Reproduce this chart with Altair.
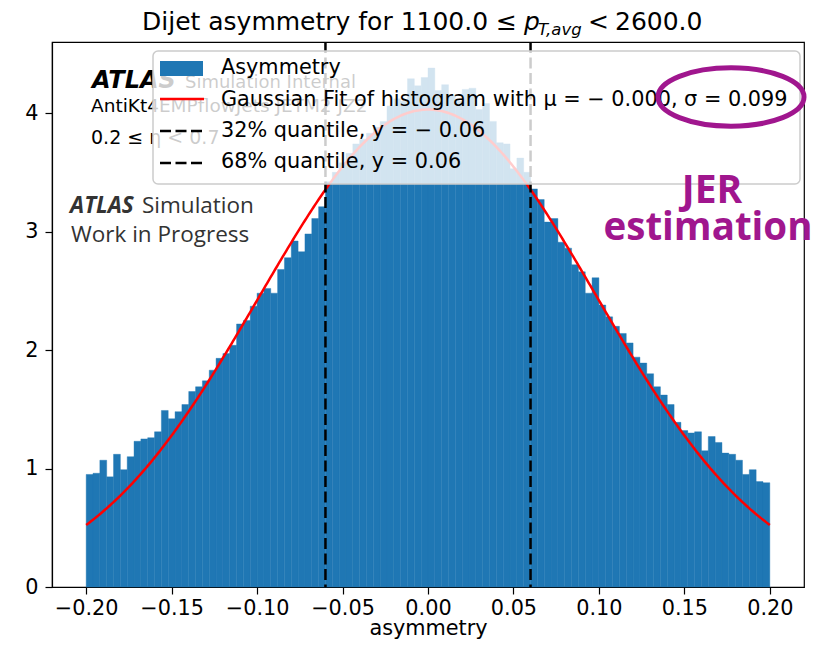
import altair as alt
import numpy as np
import pandas as pd

# ---------------- data ----------------
bin_range = [-0.2, 0.2]
heights = [0.95, 0.96, 1.07, 0.93, 1.12, 0.99, 1.10, 1.23, 1.25, 1.26,
           1.31, 1.49, 1.42, 1.48, 1.54, 1.65, 1.69, 1.74, 1.83, 1.93,
           1.97, 2.04, 2.22, 2.25, 2.37, 2.48, 2.52, 2.48, 2.68, 2.78,
           2.92, 2.83, 2.98, 3.11, 3.21, 3.42, 3.50, 3.58, 3.66, 3.74,
           3.78, 3.83, 3.88, 3.93, 4.06, 4.12, 4.10, 4.29, 4.23, 4.30,
           4.38, 4.19, 4.24, 4.15, 4.10, 4.20, 4.21, 4.03, 4.08, 3.93,
           3.75, 3.74, 3.53, 3.62, 3.50, 3.36, 3.27, 3.08, 3.11, 2.91,
           2.86, 2.72, 2.66, 2.48, 2.61, 2.38, 2.28, 2.20, 2.14, 2.06,
           1.94, 1.89, 1.80, 1.69, 1.62, 1.54, 1.39, 1.32, 1.30, 1.31,
           1.15, 1.27, 1.22, 1.13, 1.12, 1.07, 0.95, 0.99, 0.89, 0.88]
quantiles = [-0.06, 0.06]
fit_mu = 0.0
fit_sigma = 0.099
fit_amp = 4.03

x_ticks = [-0.2, -0.15, -0.1, -0.05, 0.0, 0.05, 0.1, 0.15, 0.2]
y_ticks = [0, 1, 2, 3, 4]

title_parts = ["Dijet asymmetry for 1100.0 ≤", "p", "T,avg", "<", "2600.0"]
legend_labels = ["Asymmetry",
                 "Gaussian Fit of histogram with μ = − 0.000, σ = 0.099",
                 "32% quantile, y = − 0.06",
                 "68% quantile, y = 0.06"]
atlas_lines = ["ATLAS", "Simulation Internal", "AntiKt4EMPflowJets JETM2 JZ2", "0.2 ≤ η < 0.7"]
overlay_lines = ["ATLAS", "Simulation", "Work in Progress"]
jer_lines = ["JER", "estimation"]

# ---------------- tables ----------------
edges = np.linspace(bin_range[0], bin_range[1], len(heights) + 1)
hist = pd.DataFrame({"x0": edges[:-1], "x1": edges[1:], "h": heights})
qdf = pd.DataFrame({"q": quantiles})

BLUE = "#1f77b4"
PURPLE = "#a0168e"

xscale = alt.Scale(domain=[-0.22, 0.22], nice=False, zero=False)
yscale = alt.Scale(domain=[0, 4.6], nice=False, zero=False)
xaxis = alt.Axis(values=x_ticks, format=".2f",
                 labelExpr="replace(datum.label, '-', '−')",
                 labelFlush=False, labelPadding=4, titlePadding=1)
yaxis = alt.Axis(values=y_ticks, format="d", labelPadding=7)


def X(field):
    return alt.X(field, type="quantitative", scale=xscale, axis=xaxis, title="asymmetry")


def Y(field):
    return alt.Y(field, type="quantitative", scale=yscale, axis=yaxis, title=None)


bars = alt.Chart(hist).mark_rect(color=BLUE, stroke=BLUE, strokeWidth=0.4).encode(
    x=X("x0"), x2="x1", y=Y("h"), y2=alt.datum(0)
)

fit = alt.Chart(alt.sequence(0, 401, 1, as_="i")).transform_calculate(
    x=f"{bin_range[0]} + datum.i * {(bin_range[1] - bin_range[0]) / 400}",
    y=f"{fit_amp} * exp(-pow(datum.x - {fit_mu}, 2) / (2 * pow({fit_sigma}, 2)))",
).mark_line(color="red", strokeWidth=2.5).encode(x=X("x"), y=Y("y"))

qlines = alt.Chart(qdf).mark_rule(color="black", strokeWidth=2.5, strokeDash=[11, 4.5]).encode(
    x=X("q")
)

one = pd.DataFrame({"a": [0]})


def label(text, x, y, size, font="DejaVu Sans", color="black", weight="normal",
          style="normal", align="left", baseline="alphabetic"):
    return alt.Chart(pd.DataFrame({"t": [text]})).mark_text(
        font=font, fontSize=size, color=color, fontWeight=weight, fontStyle=style,
        align=align, baseline=baseline
    ).encode(x=alt.value(x), y=alt.value(y), text="t:N")


# matplotlib ATLAS label (under legend)
mpl_text = [
    label(atlas_lines[0], 40, 46, 24, weight="bold", style="italic"),
    label(atlas_lines[1], 133, 46, 18),
    label(atlas_lines[2], 39, 70, 18.5),
    label(atlas_lines[3], 39, 102, 19),
]

legend_box = alt.Chart(one).mark_rect(
    fill="white", fillOpacity=0.8, stroke="#cccccc", strokeWidth=1.5, cornerRadius=5
).encode(x=alt.value(101), x2=alt.value(748), y=alt.value(9), y2=alt.value(142))

swatch = alt.Chart(one).mark_rect(color=BLUE).encode(
    x=alt.value(108), x2=alt.value(151), y=alt.value(19), y2=alt.value(34))
leg_red = alt.Chart(one).mark_rule(color="red", strokeWidth=2.5).encode(
    x=alt.value(108), x2=alt.value(152), y=alt.value(57))
leg_d1 = alt.Chart(one).mark_rule(color="black", strokeWidth=2.5, strokeDash=[11, 4.5]).encode(
    x=alt.value(108), x2=alt.value(152), y=alt.value(89))
leg_d2 = alt.Chart(one).mark_rule(color="black", strokeWidth=2.5, strokeDash=[11, 4.5]).encode(
    x=alt.value(108), x2=alt.value(152), y=alt.value(121))
leg_text = [label(t, 169, yy, 20.8, baseline="middle")
            for t, yy in zip(legend_labels, [26, 58, 89, 120])]

overlay = [
    label(overlay_lines[0], 18, 171, 22.5, font="Open Sans", color="#333333", weight="bold", style="italic"),
    label(overlay_lines[1], 90, 171, 22.5, font="Open Sans", color="#333333"),
    label(overlay_lines[2], 19, 200, 22.5, font="Open Sans", color="#333333"),
    label(jer_lines[0], 660, 161, 39, font="Open Sans", color=PURPLE, weight="bold", align="center"),
    label(jer_lines[1], 656, 198, 38.5, font="Open Sans", color=PURPLE, weight="bold", align="center"),
]

ellipse = alt.Chart(one).mark_point(
    shape="M -1 0 A 1 0.4 0 1 0 1 0 A 1 0.4 0 1 0 -1 0 Z",
    size=146 * 146, filled=False, stroke=PURPLE, strokeWidth=5, opacity=1
).encode(x=alt.value(679), y=alt.value(55))

title = [
    label(title_parts[0], 465, -12, 25, align="right"),
    label(title_parts[1], 472, -12, 25, style="italic"),
    label(title_parts[2], 486, -7, 16.5, style="italic"),
    label(title_parts[3], 536, -12, 25),
    label(title_parts[4], 563, -12, 25),
]

chart = alt.layer(
    bars, fit, qlines, *mpl_text, legend_box, swatch, leg_red, leg_d1, leg_d2,
    *leg_text, *overlay, ellipse, *title
).properties(
    width=752, height=545,
    autosize=alt.AutoSizeParams(type="none"),
    padding={"left": 44, "top": 34, "right": 8, "bottom": 54},
).configure_view(
    stroke="black", strokeWidth=1.2
).configure_axis(
    labelFont="DejaVu Sans", labelFontSize=20.8, labelColor="black",
    tickColor="black", tickSize=7, tickWidth=1.2,
    domainColor="black", domainWidth=1.2, grid=False,
    titleFont="DejaVu Sans", titleFontSize=20.8, titleColor="black",
    titleFontWeight="normal",
)

chart.save("out.html", embed_options={"renderer": "svg", "actions": False})
